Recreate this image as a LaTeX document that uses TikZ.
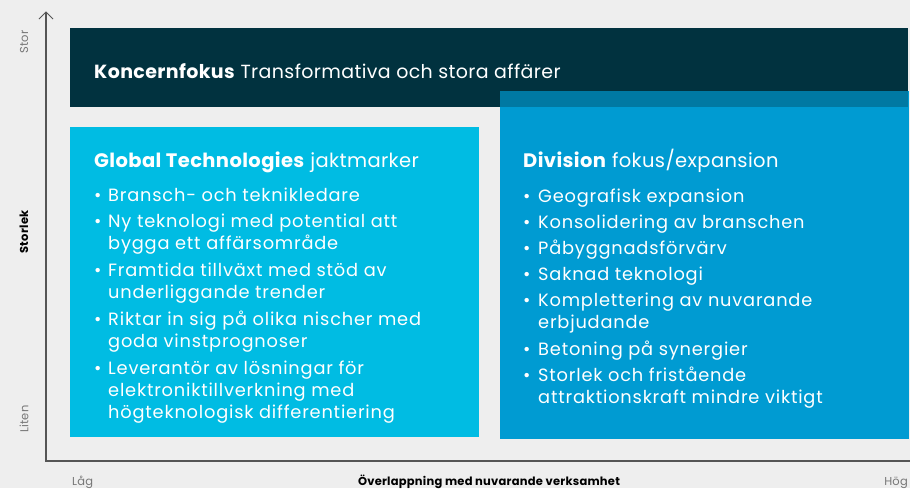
\documentclass[tikz,border=0pt]{standalone}
\usepackage{fontspec}
\setmainfont{Poppins}[LetterSpace=2]
\definecolor{bg_color}{HTML}{EEEEEE}
\definecolor{dark_color}{HTML}{01323F}
\definecolor{gt_color}{HTML}{00BCE3}
\definecolor{div_color}{HTML}{009BD2}
\definecolor{over_color}{HTML}{0079A3}
\definecolor{axis_color}{HTML}{555555}
\definecolor{lbl_color}{HTML}{777777}
\usetikzlibrary{arrows.meta}
\tikzset{
  boxtext/.style={text=white, anchor=base west, inner sep=0, font=\fontsize{17.8}{20}\selectfont\addfontfeature{LetterSpace=4.5}},
  boxtitle/.style={boxtext, font=\fontsize{19.5}{22}\selectfont},
  axislbl/.style={text=lbl_color, inner sep=0, font=\fontsize{11.5}{13}\selectfont},
}
\begin{document}
\begin{tikzpicture}[x=1pt,y=-1pt]
        \fill[bg_color] (0,0) rectangle (910,488);
        \useasboundingbox (0,0) rectangle (910,488);
        % boxes
        \fill[dark_color] (70,28) rectangle (908,107);
        \fill[gt_color] (70,127) rectangle (479,437);
        \fill[div_color] (500,91) rectangle (909,439);
        \fill[over_color] (500,91) rectangle (908,107);
        % axes
        \coordinate (origin) at (46,461);
        \coordinate (ytop) at (46,12);
        \coordinate (xend) at (910,461);
        \draw[axis_color, line width=1.3pt] (xend) -- (origin) -- (ytop);
        \draw[axis_color, line width=0.9pt] (39,19) -- (ytop) -- (53,19);
        \node[axislbl, rotate=90] (stor) at (24,42) {Stor};
        \node[axislbl, rotate=90] (liten) at (24,419) {Liten};
        \node[axislbl, rotate=90, text=black, font=\fontsize{11.5}{13}\selectfont\bfseries] (storlek) at (24,232) {Storlek};
        \node[axislbl, anchor=base west] (lag) at (72,485) {Låg};
        \node[axislbl, anchor=base east] (hog) at (908,485) {Hög};
        \node[axislbl, text=black, anchor=base, font=\fontsize{11.5}{13}\selectfont\bfseries] (overlapp) at (489,485) {Överlappning med nuvarande verksamhet};
        % titles
        \node[boxtitle, font=\fontsize{19}{22}\selectfont] (koncern) at (94,78) {\textbf{Koncernfokus} Transformativa och stora affärer};
        \node[boxtitle] (global) at (94,167) {\textbf{Global Technologies} jaktmarker};
        \node[boxtitle] (division) at (523,167) {\textbf{Division} fokus/expansion};
        % Global Technologies list
        \foreach \y in {201,227,276,325,374}
          \node[boxtext] at (94,\y) {•};
        \foreach \y/\t in {201/Bransch- och teknikledare,227/Ny teknologi med potential att,249/bygga ett affärsområde,276/Framtida tillväxt med stöd av,298/underliggande trender,325/Riktar in sig på olika nischer med,347/goda vinstprognoser,374/Leverantör av lösningar för,396/elektroniktillverkning med,418/högteknologisk differentiering}
          \node[boxtext] at (108,\y) {\t};
        % Division list
        \foreach \y in {202,228,254,280,306,355,381}
          \node[boxtext] at (523,\y) {•};
        \foreach \y/\t in {202/Geografisk expansion,228/Konsolidering av branschen,254/Påbyggnadsförvärv,280/Saknad teknologi,306/Komplettering av nuvarande,328/erbjudande,355/Betoning på synergier,381/Storlek och fristående,403/attraktionskraft mindre viktigt}
          \node[boxtext] at (538,\y) {\t};
\end{tikzpicture}
\end{document}
